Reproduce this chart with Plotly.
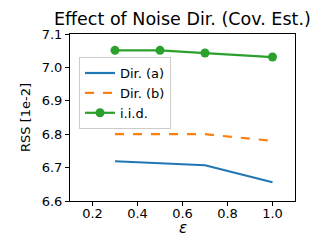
import plotly.graph_objects as go

eps = [0.3, 0.5, 0.7, 1.0]
dir_a = [6.719, 6.713, 6.707, 6.656]
dir_b = [6.80, 6.80, 6.80, 6.78]
iid = [7.051, 7.051, 7.043, 7.031]

x_ticks = [0.2, 0.4, 0.6, 0.8, 1.0]
y_ticks = [6.6, 6.7, 6.8, 6.9, 7.0, 7.1]

W, H = 331, 246

fig = go.Figure()
fig.add_trace(go.Scatter(x=eps, y=dir_a, mode="lines", name="Dir. (a)",
                         line=dict(color="#1f77b4", width=2.2)))
fig.add_trace(go.Scatter(x=eps, y=dir_b, mode="lines", name="Dir. (b)",
                         line=dict(color="#ff7f0e", width=2.2, dash="dash")))
fig.add_trace(go.Scatter(x=eps, y=iid, mode="lines+markers", name="i.i.d.",
                         line=dict(color="#2ca02c", width=2.2),
                         marker=dict(color="#2ca02c", size=9)))

axis_common = dict(showgrid=False, zeroline=False, showline=True, linecolor="black",
                   linewidth=1, mirror=True, ticks="outside", ticklen=4,
                   tickcolor="black", tickfont=dict(size=13, color="black"),
                   automargin=False)
fig.update_xaxes(range=[0.1, 1.1], tickvals=x_ticks, tickformat=".1f",
                 ticklabelstandoff=-4, **axis_common)
fig.update_yaxes(range=[6.6, 7.1], tickvals=y_ticks, tickformat=".1f",
                 title=dict(text="RSS [1e-2]", font=dict(size=13, color="black"), standoff=8),
                 **axis_common)

fig.add_annotation(text="<i>ε</i>", xref="paper", yref="paper", x=0.5, y=-0.162,
                   xanchor="center", yanchor="middle", showarrow=False,
                   font=dict(size=15, color="black"))

fig.update_layout(
    width=W, height=H,
    margin=dict(l=70, r=36, t=34, b=45, autoexpand=False),
    paper_bgcolor="white", plot_bgcolor="white",
    font=dict(family="DejaVu Sans", color="black"),
    title=dict(text="Effect of Noise Dir. (Cov. Est.)", font=dict(size=17.5, color="black"),
               x=0.551, xanchor="center", y=0.923, yanchor="middle"),
    legend=dict(x=0.04, y=0.862, xanchor="left", yanchor="top",
                bgcolor="rgba(255,255,255,0.8)", bordercolor="#cccccc", borderwidth=1,
                font=dict(size=13, color="black"), tracegroupgap=0,
                itemwidth=30),
    showlegend=True,
)

fig.write_html("out.html", config={"displayModeBar": False},
               post_script="document.body.style.margin='0';document.body.style.overflow='hidden';")
